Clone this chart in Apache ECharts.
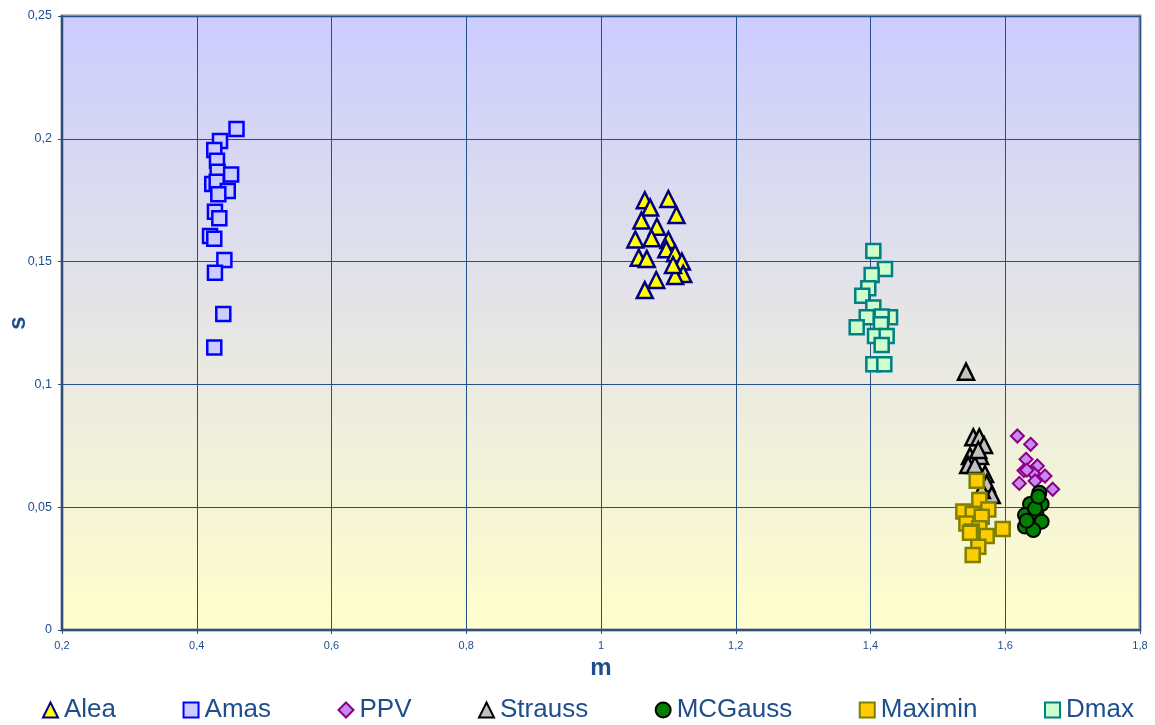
<!DOCTYPE html>
<html><head><meta charset="utf-8">
<script src="https://cdn.jsdelivr.net/npm/echarts@6/dist/echarts.min.js"></script>
<style>html,body{margin:0;padding:0;background:#fff}#c{width:1155px;height:725px}</style>
</head><body><div id="c"></div>
<script>
const seriesNames = ['Alea','Amas','PPV','Strauss','MCGauss','Maximin','Dmax'];
const aleaM = [1.065,1.073,1.100,1.112,1.060,1.083,1.051,1.075,1.100,1.097,1.110,1.056,1.068,1.120,1.122,1.110,1.082,1.065,1.107];
const aleaS = [0.175,0.172,0.1755,0.169,0.1667,0.1642,0.159,0.1595,0.1588,0.155,0.1534,0.1516,0.1511,0.150,0.145,0.1441,0.1425,0.1384,0.1486];
const amasM = [0.459,0.4345,0.426,0.430,0.431,0.451,0.423,0.4296,0.446,0.432,0.427,0.4335,0.4197,0.426,0.441,0.427,0.4394,0.426];
const amasS = [0.204,0.1991,0.1954,0.1911,0.1866,0.1855,0.1816,0.1825,0.1787,0.1774,0.1703,0.1676,0.1604,0.1593,0.1507,0.1455,0.1287,0.115];
const ppvM = [1.618,1.6377,1.6308,1.6278,1.6476,1.6416,1.659,1.6209,1.6442,1.6704,1.632];
const ppvS = [0.079,0.0756,0.0695,0.0649,0.0668,0.0638,0.0627,0.0597,0.0607,0.0573,0.0651];
const straussM = [1.5418,1.5526,1.5615,1.5685,1.5477,1.5626,1.545,1.555,1.570,1.5725,1.580,1.560,1.5652];
const straussS = [0.1052,0.0785,0.0785,0.0753,0.0708,0.0708,0.0672,0.0672,0.0635,0.0597,0.055,0.0733,0.057];
const mcgaussM = [1.6506,1.654,1.6368,1.6293,1.6467,1.654,1.6293,1.6417,1.6318,1.6442,1.6491];
const mcgaussS = [0.0559,0.0513,0.0513,0.0468,0.0468,0.0441,0.0421,0.0407,0.0445,0.0495,0.0543];
const maximinM = [1.5576,1.5615,1.5749,1.5378,1.5517,1.5651,1.5423,1.5615,1.5962,1.5502,1.5725,1.560,1.5517,1.5477];
const maximinS = [0.0608,0.0529,0.0491,0.0482,0.0472,0.0461,0.0434,0.0414,0.0411,0.0401,0.0383,0.0339,0.0305,0.0396];
const dmaxM = [1.4042,1.4215,1.4017,1.3967,1.3878,1.4042,1.3944,1.429,1.4166,1.3795,1.4156,1.4067,1.424,1.4166,1.4042,1.4205];
const dmaxS = [0.1543,0.147,0.1445,0.1391,0.1361,0.1313,0.1273,0.1273,0.1276,0.1233,0.1245,0.1197,0.1197,0.116,0.1082,0.1082];
const xTickLabels = ['0,2','0,4','0,6','0,8','1','1,2','1,4','1,6','1,8'];
const yTickLabels = ['0','0,05','0,1','0,15','0,2','0,25'];

const pair = (m, s) => m.map((v, i) => [v, s[i]]);
const seriesData = [pair(aleaM,aleaS), pair(amasM,amasS), pair(ppvM,ppvS), pair(straussM,straussS),
  pair(mcgaussM,mcgaussS), pair(maximinM,maximinS), pair(dmaxM,dmaxS)];
const styles = [
  {symbol:'triangle', size:16, fill:'#ffff00', border:'#000080', bw:2.5},
  {symbol:'rect', size:14, fill:'#ccccff', border:'#0000ff', bw:2.5},
  {symbol:'diamond', size:13, fill:'#cc88ee', border:'#880088', bw:2},
  {symbol:'triangle', size:16, fill:'#c0c0c0', border:'#000000', bw:2.5},
  {symbol:'circle', size:14, fill:'#008000', border:'#000000', bw:2},
  {symbol:'rect', size:14, fill:'#ffcc00', border:'#808000', bw:2.5},
  {symbol:'rect', size:14, fill:'#ccffcc', border:'#008080', bw:2.5}
];
const txt = '#1f4e8c';
const axisCol = '#2b4f80';
const font = 'Liberation Sans, Arial, sans-serif';
const chart = echarts.init(document.getElementById('c'));
chart.setOption({
  animation:false,
  backgroundColor:'#ffffff',
  grid:{left:62, right:15, top:16, bottom:95, show:true, containLabel:false, outerBoundsMode:'none',
    backgroundColor:{type:'linear',x:0,y:0,x2:0,y2:1,colorStops:[{offset:0,color:'#ccccff'},{offset:1,color:'#ffffcc'}]},
    borderColor:'#888888', borderWidth:3},
  xAxis:{type:'value', min:0.2, max:1.8, interval:0.2,
    name:'m', nameLocation:'middle', nameGap:26, nameMoveOverlap:false,
    nameTextStyle:{fontFamily:font, fontSize:24, fontWeight:'bold', color:txt},
    axisLine:{show:true, lineStyle:{color:axisCol, width:2}},
    axisTick:{show:true, length:4, lineStyle:{color:axisCol}},
    axisLabel:{fontFamily:font, fontSize:11, color:txt, margin:10,
      formatter:(v)=>xTickLabels[Math.round((v-0.2)/0.2)]},
    splitLine:{show:true, lineStyle:{color:'#24508c', width:1}}},
  yAxis:{type:'value', min:0, max:0.25, interval:0.05,
    name:'s', nameLocation:'middle', nameGap:32, nameMoveOverlap:false,
    nameTextStyle:{fontFamily:font, fontSize:24, fontWeight:'bold', color:txt},
    axisLine:{show:true, lineStyle:{color:axisCol, width:2}},
    axisTick:{show:true, length:4, lineStyle:{color:axisCol}},
    axisLabel:{fontFamily:font, fontSize:12.5, color:txt, margin:10,
      formatter:(v)=>yTickLabels[Math.round(v/0.05)]},
    splitLine:{show:true, lineStyle:{color:'#24508c', width:1}}},
  legend:{show:true, bottom:-3, left:37, itemGap:66.5, itemWidth:15, itemHeight:15,
    textStyle:{fontFamily:font, fontSize:26, color:txt, padding:[0,0,0,1]},
    data:seriesNames},
  series: seriesNames.map((n,i)=>({
    name:n, type:'scatter', data:seriesData[i], symbol:styles[i].symbol, symbolSize:styles[i].size,
    itemStyle:{color:styles[i].fill, borderColor:styles[i].border, borderWidth:styles[i].bw, opacity:1},
    z:2+i
  }))
});
</script></body></html>
